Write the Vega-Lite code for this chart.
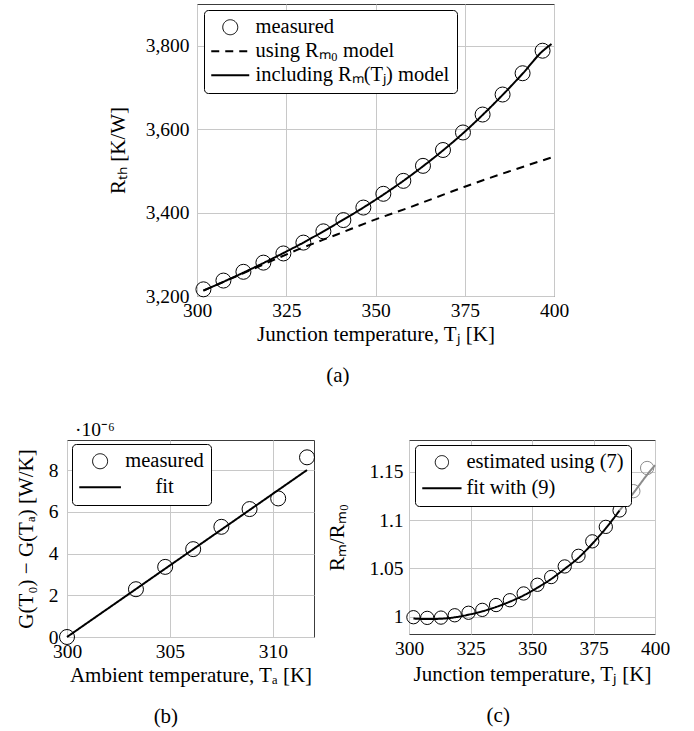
{
  "$schema": "https://vega.github.io/schema/vega-lite/v6.json",
  "background": "white",
  "padding": {"left": 14, "top": 3, "right": 4, "bottom": 4},
  "datasets": {
    "aMeasured": [
      {"T": 301.8, "R": 3216}, {"T": 307.4, "R": 3237}, {"T": 313.0, "R": 3258}, {"T": 318.6, "R": 3280},
      {"T": 324.2, "R": 3302}, {"T": 329.8, "R": 3328}, {"T": 335.4, "R": 3355}, {"T": 341.0, "R": 3382},
      {"T": 346.6, "R": 3412}, {"T": 352.2, "R": 3445}, {"T": 357.8, "R": 3476}, {"T": 363.3, "R": 3512},
      {"T": 368.9, "R": 3550}, {"T": 374.5, "R": 3592}, {"T": 380.0, "R": 3635}, {"T": 385.6, "R": 3683},
      {"T": 391.2, "R": 3734}, {"T": 396.8, "R": 3788}
    ],
    "aModels": [
      {"series": "using Rₘ₀ model", "T": 301.8, "R": 3213},
      {"series": "using Rₘ₀ model", "T": 315.0, "R": 3262},
      {"series": "using Rₘ₀ model", "T": 328.2, "R": 3311},
      {"series": "using Rₘ₀ model", "T": 339.4, "R": 3348},
      {"series": "using Rₘ₀ model", "T": 348.9, "R": 3380},
      {"series": "using Rₘ₀ model", "T": 359.4, "R": 3412},
      {"series": "using Rₘ₀ model", "T": 375.0, "R": 3462},
      {"series": "using Rₘ₀ model", "T": 400.0, "R": 3534},
      {"series": "including Rₘ(Tⱼ) model", "T": 301.8, "R": 3213},
      {"series": "including Rₘ(Tⱼ) model", "T": 307.4, "R": 3234},
      {"series": "including Rₘ(Tⱼ) model", "T": 313.0, "R": 3256},
      {"series": "including Rₘ(Tⱼ) model", "T": 318.6, "R": 3279},
      {"series": "including Rₘ(Tⱼ) model", "T": 324.2, "R": 3303},
      {"series": "including Rₘ(Tⱼ) model", "T": 329.8, "R": 3328},
      {"series": "including Rₘ(Tⱼ) model", "T": 335.4, "R": 3355},
      {"series": "including Rₘ(Tⱼ) model", "T": 341.0, "R": 3383},
      {"series": "including Rₘ(Tⱼ) model", "T": 346.6, "R": 3412},
      {"series": "including Rₘ(Tⱼ) model", "T": 352.2, "R": 3443},
      {"series": "including Rₘ(Tⱼ) model", "T": 357.8, "R": 3476},
      {"series": "including Rₘ(Tⱼ) model", "T": 363.3, "R": 3511},
      {"series": "including Rₘ(Tⱼ) model", "T": 368.9, "R": 3549},
      {"series": "including Rₘ(Tⱼ) model", "T": 374.5, "R": 3590},
      {"series": "including Rₘ(Tⱼ) model", "T": 380.0, "R": 3634},
      {"series": "including Rₘ(Tⱼ) model", "T": 385.6, "R": 3682},
      {"series": "including Rₘ(Tⱼ) model", "T": 391.2, "R": 3733},
      {"series": "including Rₘ(Tⱼ) model", "T": 396.8, "R": 3787},
      {"series": "including Rₘ(Tⱼ) model", "T": 399.3, "R": 3804}
    ],
    "bMeasured": [
      {"T": 300.0, "G": 0.0}, {"T": 303.35, "G": 2.29}, {"T": 304.77, "G": 3.36}, {"T": 306.13, "G": 4.21},
      {"T": 307.5, "G": 5.28}, {"T": 308.87, "G": 6.13}, {"T": 310.26, "G": 6.64}, {"T": 311.66, "G": 8.61}
    ],
    "bFit": [
      {"series": "fit", "T": 300.0, "G": 0.0},
      {"series": "fit", "T": 311.66, "G": 8.0}
    ],
    "bNote": [
      {"T": 300.0, "G": 9.44, "label": "·10⁻⁶"}
    ],
    "cEstimated": [
      {"T": 301.8, "ratio": 0.9994, "part": "fitted"}, {"T": 307.4, "ratio": 0.9987, "part": "fitted"},
      {"T": 313.0, "ratio": 0.9990, "part": "fitted"}, {"T": 318.6, "ratio": 1.0014, "part": "fitted"},
      {"T": 324.2, "ratio": 1.0040, "part": "fitted"}, {"T": 329.8, "ratio": 1.0070, "part": "fitted"},
      {"T": 335.4, "ratio": 1.0120, "part": "fitted"}, {"T": 341.0, "ratio": 1.0170, "part": "fitted"},
      {"T": 346.6, "ratio": 1.0240, "part": "fitted"}, {"T": 352.2, "ratio": 1.0330, "part": "fitted"},
      {"T": 357.8, "ratio": 1.0410, "part": "fitted"}, {"T": 363.3, "ratio": 1.0520, "part": "fitted"},
      {"T": 368.9, "ratio": 1.0630, "part": "fitted"}, {"T": 374.5, "ratio": 1.0780, "part": "fitted"},
      {"T": 380.0, "ratio": 1.0930, "part": "fitted"}, {"T": 385.6, "ratio": 1.1100, "part": "fitted"},
      {"T": 391.2, "ratio": 1.1300, "part": "extrapolated"}, {"T": 396.8, "ratio": 1.1540, "part": "extrapolated"}
    ],
    "cFit": [
      {"series": "fit with (9)", "part": "fitted", "T": 301.8, "ratio": 0.9980},
      {"series": "fit with (9)", "part": "fitted", "T": 307.4, "ratio": 0.9975},
      {"series": "fit with (9)", "part": "fitted", "T": 313.0, "ratio": 0.9978},
      {"series": "fit with (9)", "part": "fitted", "T": 318.6, "ratio": 0.9993},
      {"series": "fit with (9)", "part": "fitted", "T": 324.2, "ratio": 1.0020},
      {"series": "fit with (9)", "part": "fitted", "T": 329.8, "ratio": 1.0055},
      {"series": "fit with (9)", "part": "fitted", "T": 335.4, "ratio": 1.0100},
      {"series": "fit with (9)", "part": "fitted", "T": 341.0, "ratio": 1.0155},
      {"series": "fit with (9)", "part": "fitted", "T": 346.6, "ratio": 1.0220},
      {"series": "fit with (9)", "part": "fitted", "T": 352.2, "ratio": 1.0300},
      {"series": "fit with (9)", "part": "fitted", "T": 357.8, "ratio": 1.0390},
      {"series": "fit with (9)", "part": "fitted", "T": 363.3, "ratio": 1.0495},
      {"series": "fit with (9)", "part": "fitted", "T": 368.9, "ratio": 1.0610},
      {"series": "fit with (9)", "part": "fitted", "T": 374.5, "ratio": 1.0755},
      {"series": "fit with (9)", "part": "fitted", "T": 380.0, "ratio": 1.0915},
      {"series": "fit with (9)", "part": "fitted", "T": 385.6, "ratio": 1.1100},
      {"series": "fit with (9)", "part": "extrapolated", "T": 385.6, "ratio": 1.1100},
      {"series": "fit with (9)", "part": "extrapolated", "T": 391.2, "ratio": 1.1280},
      {"series": "fit with (9)", "part": "extrapolated", "T": 396.8, "ratio": 1.1470},
      {"series": "fit with (9)", "part": "extrapolated", "T": 400.0, "ratio": 1.1570}
    ]
  },
  "spacing": 33,
  "resolve": {
    "scale": {"strokeDash": "independent", "color": "independent"},
    "legend": {"strokeDash": "independent", "color": "independent"}
  },
  "vconcat": [
    {
      "bounds": "flush",
      "spacing": 0,
      "resolve": {
        "scale": {"strokeDash": "independent", "color": "independent"},
        "legend": {"strokeDash": "independent", "color": "independent"}
      },
      "hconcat": [
        {
          "width": 130,
          "height": 1,
          "data": {"values": []},
          "mark": {"type": "point"},
          "encoding": {},
          "view": {"stroke": null}
        },
        {
          "width": 357,
          "height": 292,
          "title": "(a)",
          "layer": [
            {
              "data": {"name": "aMeasured"},
              "mark": {"type": "point", "shape": "circle", "filled": false, "color": "black", "opacity": 1, "size": 225, "strokeWidth": 1},
              "encoding": {
                "x": {"field": "T", "type": "quantitative", "scale": {"domain": [300, 400], "nice": false, "zero": false},
                      "axis": {"values": [300, 325, 350, 375, 400], "title": "Junction temperature, Tⱼ [K]"}},
                "y": {"field": "R", "type": "quantitative", "scale": {"domain": [3200, 3900], "nice": false, "zero": false},
                      "axis": {"values": [3200, 3400, 3600, 3800], "format": ",d", "title": "Rₜₕ [K/W]", "titlePadding": 17}}
              }
            },
            {
              "data": {"name": "aModels"},
              "mark": {"type": "line", "color": "black", "strokeWidth": 2, "interpolate": "monotone"},
              "encoding": {
                "x": {"field": "T", "type": "quantitative"},
                "y": {"field": "R", "type": "quantitative"},
                "strokeDash": {
                  "field": "series", "type": "nominal",
                  "scale": {"domain": ["measured", "using Rₘ₀ model", "including Rₘ(Tⱼ) model"], "range": [[1, 0], [8, 6], [1, 0]]},
                  "legend": {
                    "title": null, "orient": "none", "legendX": 7, "legendY": 6, "columns": 1,
                    "symbolSize": 400, "labelOffset": 24, "padding": 7, "rowPadding": 3,
                    "encode": {
                      "symbols": {
                        "update": {
                          "shape": {"signal": "datum.value === 'measured' ? 'M0.15,0A0.75,0.75,0,1,1,1.65,0A0.75,0.75,0,1,1,0.15,0Z' : 'M-1,0L2.8,0'"},
                          "strokeWidth": {"signal": "datum.value === 'measured' ? 1 : 2"},
                          "fill": {"value": "transparent"},
                          "stroke": {"value": "black"}
                        }
                      }
                    }
                  }
                }
              }
            }
          ]
        }
      ]
    },
    {
      "bounds": "flush",
      "spacing": 95,
      "resolve": {
        "scale": {"strokeDash": "independent", "color": "independent"},
        "legend": {"strokeDash": "independent", "color": "independent"}
      },
      "hconcat": [
        {
          "width": 247,
          "height": 197,
          "title": "(b)",
          "layer": [
            {
              "data": {"name": "bMeasured"},
              "mark": {"type": "point", "shape": "circle", "filled": false, "color": "black", "opacity": 1, "size": 225, "strokeWidth": 1},
              "encoding": {
                "x": {"field": "T", "type": "quantitative", "scale": {"domain": [300, 312], "nice": false, "zero": false},
                      "axis": {"values": [300, 305, 310], "title": "Ambient temperature, Tₐ [K]"}},
                "y": {"field": "G", "type": "quantitative", "scale": {"domain": [0, 9.44], "nice": false},
                      "axis": {"values": [0, 2, 4, 6, 8], "title": "G(T₀) − G(Tₐ) [W/K]", "titlePadding": 12, "labelPadding": 9}}
              }
            },
            {
              "data": {"name": "bFit"},
              "mark": {"type": "line", "color": "black", "strokeWidth": 2},
              "encoding": {
                "x": {"field": "T", "type": "quantitative"},
                "y": {"field": "G", "type": "quantitative"},
                "strokeDash": {
                  "field": "series", "type": "nominal",
                  "scale": {"domain": ["measured", "fit"], "range": [[1, 0], [1, 0]]},
                  "legend": {
                    "title": null, "orient": "none", "legendX": 5, "legendY": 4, "columns": 1,
                    "symbolSize": 400, "labelOffset": 65, "labelAlign": "center", "padding": 7, "rowPadding": 5,
                    "encode": {
                      "symbols": {
                        "update": {
                          "shape": {"signal": "datum.value === 'measured' ? 'M0.335,0A0.75,0.75,0,1,1,1.835,0A0.75,0.75,0,1,1,0.335,0Z' : 'M-1,0L3.17,0'"},
                          "strokeWidth": {"signal": "datum.value === 'measured' ? 1 : 2"},
                          "fill": {"value": "transparent"},
                          "stroke": {"value": "black"}
                        }
                      }
                    }
                  }
                }
              }
            },
            {
              "data": {"name": "bNote"},
              "mark": {"type": "text", "align": "left", "baseline": "alphabetic", "dx": 8, "dy": -4, "fontSize": 19.5, "font": "Liberation Serif", "color": "black"},
              "encoding": {
                "x": {"field": "T", "type": "quantitative"},
                "y": {"field": "G", "type": "quantitative"},
                "text": {"field": "label"}
              }
            }
          ]
        },
        {
          "width": 246,
          "height": 194,
          "title": "(c)",
          "layer": [
            {
              "data": {"name": "cEstimated"},
              "mark": {"type": "point", "shape": "circle", "filled": false, "opacity": 1, "size": 177, "strokeWidth": 1},
              "encoding": {
                "x": {"field": "T", "type": "quantitative", "scale": {"domain": [300, 400], "nice": false, "zero": false},
                      "axis": {"values": [300, 325, 350, 375, 400], "title": "Junction temperature, Tⱼ [K]", "titlePadding": 6}},
                "y": {"field": "ratio", "type": "quantitative", "scale": {"domain": [0.982, 1.183], "nice": false, "zero": false},
                      "axis": {"values": [1, 1.05, 1.1, 1.15], "format": "~g", "title": "Rₘ/Rₘ₀", "titlePadding": 21, "labelPadding": 6}},
                "color": {"field": "part", "type": "nominal", "scale": {"domain": ["fitted", "extrapolated"], "range": ["black", "#8c8c8c"]}, "legend": null}
              }
            },
            {
              "data": {"name": "cFit"},
              "mark": {"type": "line", "strokeWidth": 2, "interpolate": "monotone"},
              "encoding": {
                "x": {"field": "T", "type": "quantitative"},
                "y": {"field": "ratio", "type": "quantitative"},
                "color": {"field": "part", "type": "nominal", "legend": null},
                "strokeDash": {
                  "field": "series", "type": "nominal",
                  "scale": {"domain": ["estimated using (7)", "fit with (9)"], "range": [[1, 0], [1, 0]]},
                  "legend": {
                    "title": null, "orient": "none", "legendX": 6, "legendY": 5, "columns": 1,
                    "symbolSize": 400, "labelOffset": 24, "padding": 7, "rowPadding": 5,
                    "encode": {
                      "symbols": {
                        "update": {
                          "shape": {"signal": "datum.value === 'estimated using (7)' ? 'M0.3,0A0.665,0.665,0,1,1,1.63,0A0.665,0.665,0,1,1,0.3,0Z' : 'M-1,0L2.93,0'"},
                          "strokeWidth": {"signal": "datum.value === 'estimated using (7)' ? 1 : 2"},
                          "fill": {"value": "transparent"},
                          "stroke": {"value": "black"}
                        }
                      }
                    }
                  }
                }
              }
            }
          ]
        }
      ]
    }
  ],
  "config": {
    "font": "Liberation Serif",
    "view": {"stroke": "#3c3c3c", "strokeWidth": 1},
    "axis": {
      "domain": false, "ticks": false, "grid": true, "gridColor": "#c8c8c8", "gridWidth": 1,
      "labelFont": "Liberation Serif", "labelFontSize": 19.5, "labelColor": "#000000",
      "titleFont": "Liberation Serif", "titleFontSize": 21, "titleFontWeight": "normal", "titleColor": "#000000",
      "labelFlush": false, "labelOverlap": false, "labelBound": false
    },
    "axisX": {"labelPadding": 5, "titlePadding": 4},
    "axisY": {"labelPadding": 8},
    "legend": {
      "strokeColor": "#000000", "fillColor": "#ffffff", "cornerRadius": 4,
      "labelFont": "Liberation Serif", "labelFontSize": 20.5, "labelColor": "#000000",
      "symbolStrokeWidth": 1.6, "symbolStrokeColor": "#000000", "labelLimit": 400
    },
    "title": {
      "font": "Liberation Serif", "fontSize": 21, "fontWeight": "normal", "color": "#000000",
      "orient": "bottom", "anchor": "middle", "frame": "bounds", "offset": 20
    }
  }
}
